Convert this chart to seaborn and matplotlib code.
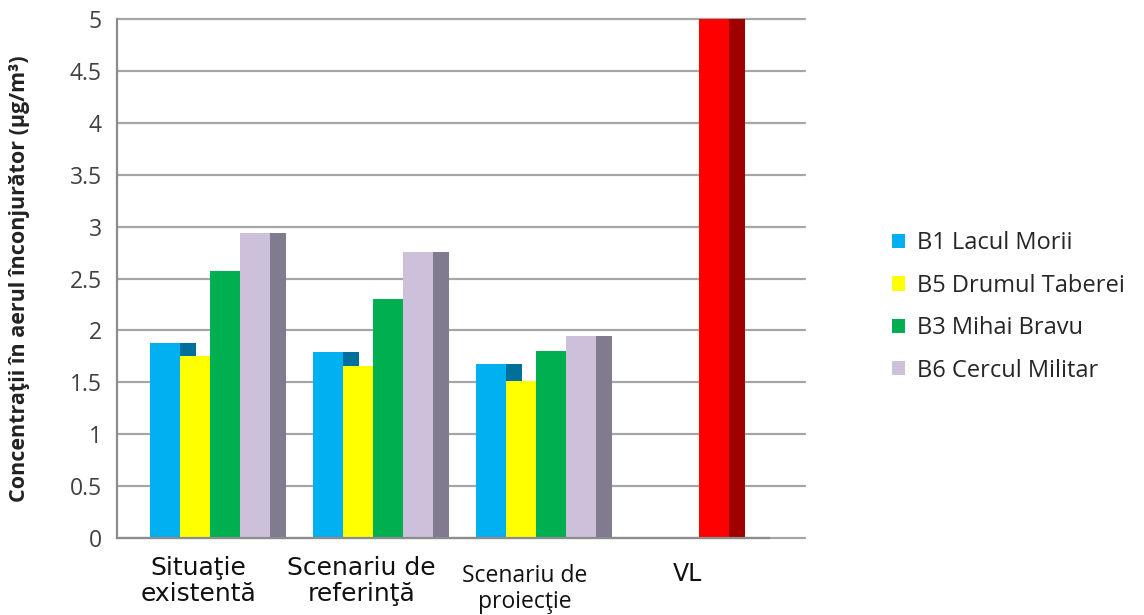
import numpy as np
import pandas as pd
import matplotlib
matplotlib.use('Agg')
import matplotlib.pyplot as plt
import matplotlib.transforms as mtransforms
from matplotlib.patches import Patch
from matplotlib.ticker import FuncFormatter, MultipleLocator
import seaborn as sns

categories = ['Situaţie\nexistentă', 'Scenariu de\nreferinţă', 'Scenariu de\nproiecţie', 'VL']
stations = ['B1 Lacul Morii', 'B5 Drumul Taberei', 'B3 Mihai Bravu', 'B6 Cercul Militar']

b1 = [1.88, 1.79, 1.68, np.nan]
b5 = [1.75, 1.66, 1.51, np.nan]
b3 = [2.57, 2.30, 1.80, 5.0]   # VL value sits in the B3 slot, drawn red
b6 = [2.94, 2.76, 1.95, np.nan]

front_colors = ['#00b0f0', '#ffff00', '#00b050', '#ccc0da']
side_colors = ['#006f9c', '#a8a800', '#007a3a', '#807b8e']
vl_front, vl_side = '#ff0000', '#a00000'

df = pd.DataFrame({
    'scenario': categories * 4,
    'station': np.repeat(stations, len(categories)),
    'value': b1 + b5 + b3 + b6,
}).dropna()

sns.set_style('white')
plt.rcParams['font.family'] = ['Open Sans', 'DejaVu Sans']

fig = plt.figure(figsize=(11.44, 6.15), dpi=100)
ax = fig.add_axes([117 / 1144, 1 - 537.7 / 615, 688 / 1144, 518.3 / 615])

shift = 0.07   # Excel 3D columns sit a bit right of the category centre
depth = 0.10   # visible side face

# side faces first, then the fronts on top
sns.barplot(data=df, x='scenario', y='value', hue='station', order=categories,
            hue_order=stations, palette=side_colors, saturation=1, width=0.736,
            linewidth=0, legend=False, ax=ax)
n_side = len(ax.containers)
sns.barplot(data=df, x='scenario', y='value', hue='station', order=categories,
            hue_order=stations, palette=front_colors, saturation=1, width=0.736,
            linewidth=0, legend=False, ax=ax)

for i, cont in enumerate(ax.containers):
    off = shift + depth if i < n_side else shift
    for bar in cont:
        bar.set_x(bar.get_x() + off)

# VL bar in red
vl_idx = categories.index('VL')
ax.containers[2][vl_idx].set_facecolor(vl_side)
ax.containers[n_side + 2][vl_idx].set_facecolor(vl_front)

ax.set_xlim(-0.5, -0.5 + 688 / 163)
ax.set_ylim(0, 5)
ax.yaxis.set_major_locator(MultipleLocator(0.5))
ax.yaxis.set_major_formatter(FuncFormatter(lambda v, p: '%g' % v))
ax.set_axisbelow(True)
ax.grid(axis='y', color='#a6a6a6', linewidth=1.6)
ax.grid(axis='x', visible=False)
for gl in ax.get_ygridlines():
    gl.set_clip_on(False)

for s in ['top', 'right']:
    ax.spines[s].set_visible(False)
for s in ['left', 'bottom']:
    ax.spines[s].set_color('#8c8c8c')
    ax.spines[s].set_linewidth(1.6)
ax.spines['bottom'].set_bounds(-0.5, 3.5)

ax.set_xticks(np.arange(-0.5, 4, 1), minor=True)
ax.tick_params(axis='x', which='minor', length=7, width=1.6, color='#8c8c8c', direction='out')
ax.tick_params(axis='x', which='major', length=0, pad=13)
ax.tick_params(axis='y', length=5, width=1.6, color='#8c8c8c', direction='out',
               labelsize=16.5, labelcolor='#404040', pad=6)
ax.set_xlabel('')

# family, size, line spacing, extra drop in px
label_fonts = [('DejaVu Sans', 18, 1.1, 0), ('DejaVu Sans', 18, 1.1, 0),
               ('Open Sans', 16.5, 1.15, 8), ('DejaVu Sans', 17, 1.1, 6)]
for lab, (fam, size, ls, drop) in zip(ax.get_xticklabels(), label_fonts):
    lab.set_fontfamily([fam, 'DejaVu Sans'])
    lab.set_fontsize(size)
    lab.set_color('#111111')
    lab.set_linespacing(ls)
    if drop:
        lab.set_transform(lab.get_transform() +
                          mtransforms.ScaledTranslation(0, -drop / 100, fig.dpi_scale_trans))

ax.set_ylabel('Concentraţii în aerul înconjurător (µg/m³)', fontsize=15.5,
              fontweight='bold', color='#222222')
ax.yaxis.set_label_coords(-0.127, 0.5)

handles = [Patch(facecolor=c, edgecolor='none') for c in front_colors]
fig.legend(handles, stations, loc='center left', bbox_to_anchor=(892 / 1144, 1 - 307 / 615),
           frameon=False, fontsize=17, handlelength=0.55, handleheight=0.55,
           handletextpad=0.5, labelspacing=0.78, borderpad=0, borderaxespad=0)

fig.savefig('out.png', dpi=100)
